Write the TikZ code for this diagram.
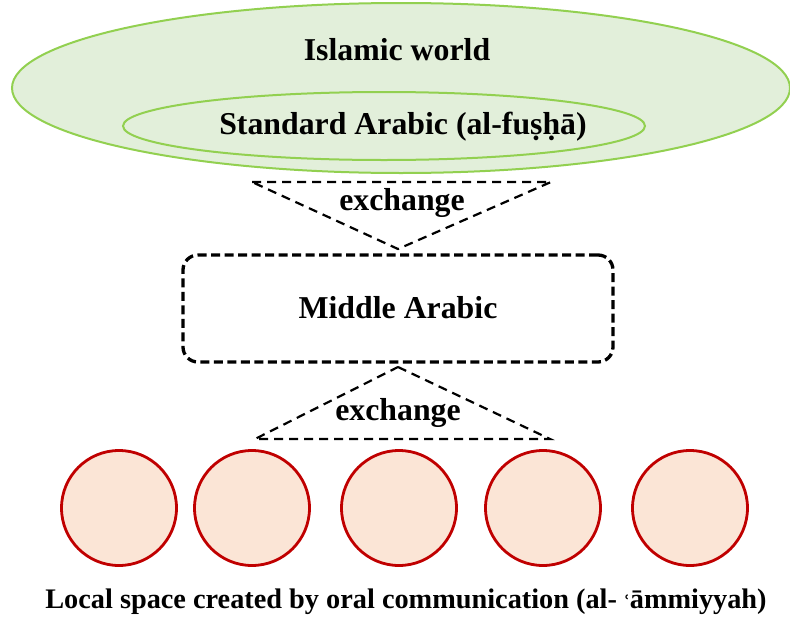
\documentclass[tikz,border=0pt]{standalone}
\usepackage{fontspec}
\setmainfont{Liberation Serif}
\newfontfamily\dvs{DejaVu Serif}
\definecolor{lgreen}{HTML}{E2EFDA}
\definecolor{dgreen}{HTML}{92D050}
\definecolor{peach}{HTML}{FBE5D6}
\definecolor{dred}{HTML}{C00000}
\begin{document}
\begin{tikzpicture}[x=1pt,y=-1pt,
  lbl/.style={font=\fontsize{31.8}{34}\selectfont\bfseries, inner sep=0pt},
  dline/.style={draw=black, line width=2.2pt, dash pattern=on 9pt off 6pt},
  bubble/.style={circle, draw=dred, fill=peach, line width=2.8pt, minimum size=115pt, inner sep=0pt}]
\useasboundingbox (0,0) rectangle (790,616);
% ellipses
\draw[fill=lgreen, draw=dgreen, line width=2pt] (401,88) ellipse [x radius=389, y radius=85];
\draw[fill=lgreen, draw=dgreen, line width=2pt] (384,126) ellipse [x radius=261, y radius=34];
\node[lbl] (iw) at (397,50) {Islamic world};
\node[lbl] (sa) at (403,127) {Standard Arabic (al-fuṣḥā)};
% upper triangle
\coordinate (ut1) at (252,182);
\coordinate (ut2) at (551,182);
\coordinate (ua) at (398,249);
\draw[dline] (ut1) -- (ut2) -- (ua) -- cycle;
\node[lbl] (ex1) at (402,203) {exchange};
% middle box
\node[draw=black, line width=3.3pt, dash pattern=on 9pt off 4.5pt, rounded corners=15pt,
  minimum width=430pt, minimum height=107pt, inner sep=0pt] (ma) at (398,308.5) {};
\node[lbl] (mal) at (398,308) {Middle Arabic};
% lower triangle
\coordinate (la) at (398,367);
\coordinate (lb1) at (255,439);
\coordinate (lb2) at (550,439);
\draw[dline] (la) -- (lb2) -- (lb1) -- cycle;
\node[lbl] (ex2) at (398,413) {exchange};
% circles
\node[bubble] (c1) at (119,508) {};
\node[bubble] (c2) at (252,508) {};
\node[bubble] (c3) at (399,508) {};
\node[bubble] (c4) at (543,508) {};
\node[bubble] (c5) at (690,508) {};
\node[lbl, font=\fontsize{28.3}{30}\selectfont\bfseries] (ls) at (406,602) {Local space created by oral communication (al-{\dvs\fontsize{18}{20}\selectfont\ ʿ}āmmiyyah)};
\end{tikzpicture}
\end{document}
